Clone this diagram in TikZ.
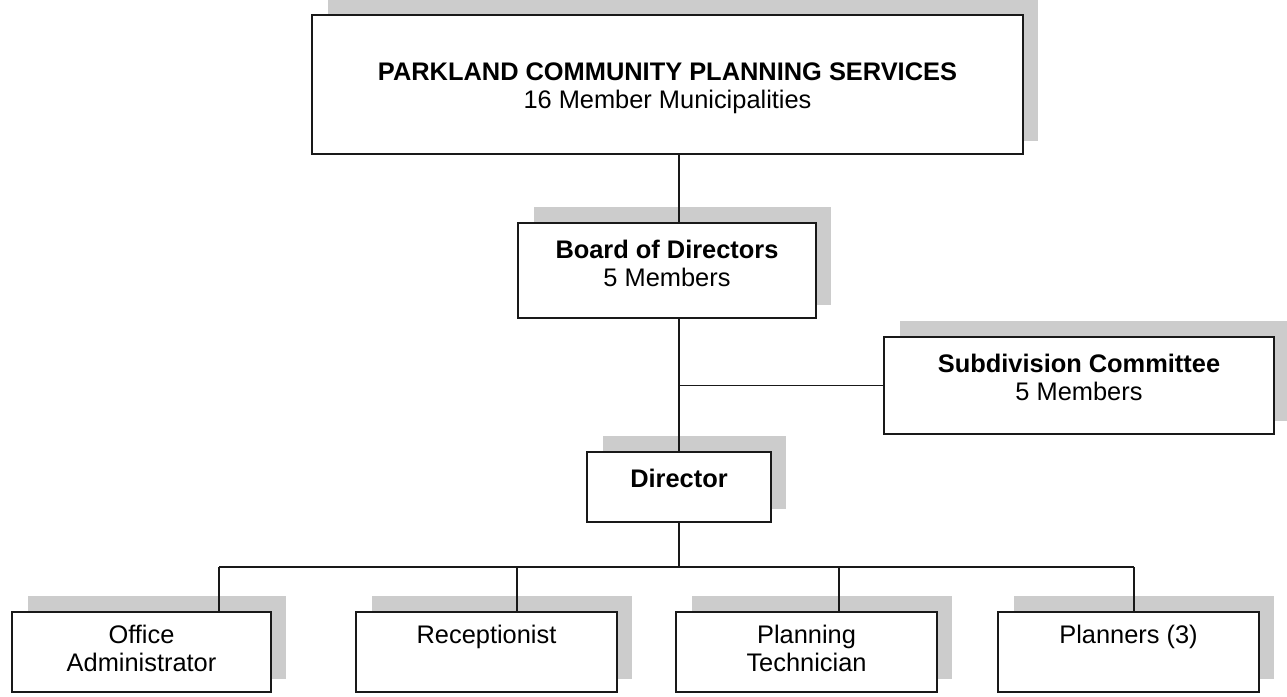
\documentclass[tikz,border=0pt]{standalone}
\usepackage{fontspec}
\setmainfont{Liberation Sans}
\usetikzlibrary{calc,backgrounds}

\definecolor{shadowgray}{RGB}{204,204,204}
\definecolor{inkline}{RGB}{25,25,25}

\tikzset{
  orgbox/.style={draw=inkline, line width=2pt, fill=white, rectangle,
                 inner sep=0pt, minimum width=#1},
  orgtext/.style={anchor=north, inner sep=0pt, align=center, text=black,
                  font=\fontsize{25.4}{28}\selectfont},
  link/.style={draw=inkline, line width=1.6pt},
}

% offset grey block behind a box, lifted up and to the right
\newcommand\dropblock[1]{%
  \fill[shadowgray] ($(#1.north west)+(17,-15)$) rectangle ($(#1.south east)+(14,-14)$);}

\begin{document}
\begin{tikzpicture}[x=1pt, y=-1pt]
  \useasboundingbox (0,0) rectangle (1287,696);

  % boxes
  \node[orgbox=711pt, minimum height=139pt] (top) at (667.5,84.5) {};
  \node[orgbox=298pt, minimum height=95pt]  (board) at (667,270.5) {};
  \node[orgbox=390pt, minimum height=97pt]  (sub) at (1079,385.5) {};
  \node[orgbox=184pt, minimum height=70pt]  (dir) at (679,487) {};
  \node[orgbox=259pt, minimum height=80pt]  (office) at (141.5,652) {};
  \node[orgbox=261pt, minimum height=80pt]  (recep) at (486.5,652) {};
  \node[orgbox=261pt, minimum height=80pt]  (tech) at (806.5,652) {};
  \node[orgbox=261pt, minimum height=80pt]  (plan) at (1128.5,652) {};

  \begin{pgfonlayer}{background}
    \fill[white] (0,0) rectangle (1287,696);
    \dropblock{top}\dropblock{board}\dropblock{sub}\dropblock{dir}
    \dropblock{office}\dropblock{recep}\dropblock{tech}\dropblock{plan}
  \end{pgfonlayer}

  % labels
  \node[orgtext] (topT) at ($(top.north)+(0,49)$)
    {\textbf{PARKLAND COMMUNITY PLANNING SERVICES}\\16 Member Municipalities};
  \node[orgtext] (boardT) at ($(board.north)+(0,18)$)
    {\textbf{Board of Directors}\\5 Members};
  \node[orgtext] (subT) at ($(sub.north)+(0,18)$)
    {\textbf{Subdivision Committee}\\5 Members};
  \node[orgtext] (dirT) at ($(dir.north)+(0,18)$) {\textbf{Director}};
  \node[orgtext] (officeT) at ($(office.north)+(0,14)$) {Office\\Administrator};
  \node[orgtext] (recepT) at ($(recep.north)+(0,14)$) {Receptionist};
  \node[orgtext] (techT) at ($(tech.north)+(0,14)$) {Planning\\Technician};
  \node[orgtext] (planT) at ($(plan.north)+(0,14)$) {Planners (3)};

  % bus and drop points
  \coordinate (busA) at (219,567);
  \coordinate (busB) at (517,567);
  \coordinate (busC) at (839,567);
  \coordinate (busD) at (1134,567);

  % trunk
  \draw[link] (dir.north |- top.south) -- (dir.north |- board.north);
  \draw[link] (dir.north |- board.south) -- (dir.north);
  \draw[link] (dir.north |- sub.west) -- (sub.west);
  \draw[link] (dir.south) -- (dir.south |- busA);
  \draw[link] (busA) -- (busD);
  \draw[link] (busA) -- (busA |- office.north);
  \draw[link] (busB) -- (busB |- recep.north);
  \draw[link] (busC) -- (busC |- tech.north);
  \draw[link] (busD) -- (busD |- plan.north);
\end{tikzpicture}
\end{document}
